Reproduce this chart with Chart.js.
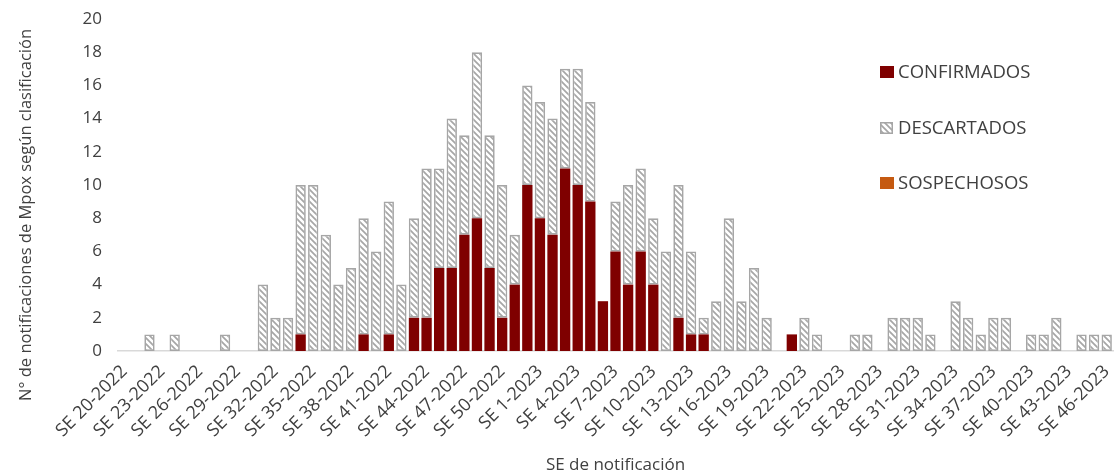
<!DOCTYPE html>
<html>
<head>
<meta charset="utf-8">
<script src="https://cdn.jsdelivr.net/npm/chart.js@4/dist/chart.umd.min.js"></script>
<style>
  html, body { margin: 0; padding: 0; background: #fff; }
  #wrap { width: 1115px; height: 475px; position: relative; }
</style>
</head>
<body>
<div id="wrap"><canvas id="chart"></canvas></div>
<script>
// SE 20-2022 ... SE 52-2022, SE 1-2023 ... SE 46-2023
const weeks = [];
for (let w = 20; w <= 52; w++) weeks.push(`SE ${w}-2022`);
for (let w = 1; w <= 46; w++) weeks.push(`SE ${w}-2023`);

const confirmados = [
  0,0,0,0,0,0,0,0,0,0, 0,0,0,0,1,0,0,0,0,1,
  0,1,0,2,2,5,5,7,8,5, 2,4,10,8,7,11,10,9,3,6,
  4,6,4,0,2,1,1,0,0,0, 0,0,0,1,0,0,0,0,0,0,
  0,0,0,0,0,0,0,0,0,0, 0,0,0,0,0,0,0,0,0
];
const descartados = [
  0,0,1,0,1,0,0,0,1,0, 0,4,2,2,9,10,7,4,5,7,
  6,8,4,6,9,6,9,6,10,8, 8,3,6,7,7,6,7,6,0,3,
  6,5,4,6,8,5,1,3,8,3, 5,2,0,0,2,1,0,0,1,1,
  0,2,2,2,1,0,3,2,1,2, 2,0,1,1,2,0,1,1,1
];
const sospechosos = [
  0,0,0,0,0,0,0,0,0,0, 0,0,0,0,0,0,0,0,0,0,
  0,0,0,0,0,0,0,0,0,0, 0,0,0,0,0,0,0,0,0,0,
  0,0,0,0,0,0,0,0,0,0, 0,0,0,0,0,0,0,0,0,0,
  0,0,0,0,0,0,0,0,0,0, 0,0,0,0,0,0,0,0,0
];
const yTicks = [0, 2, 4, 6, 8, 10, 12, 14, 16, 18, 20];

const RED = "#7f0000";
const GRAY = "#a6a6a6";
const ORANGE = "#c55a11";
const TEXT = "#404040";
const FONT = "'Open Sans', sans-serif";
const Y_TITLE = "N° de notificaciones de Mpox según clasificación";

// diagonal hatch for DESCARTADOS
function hatch() {
  const c = document.createElement("canvas");
  c.width = 6; c.height = 6;
  const g = c.getContext("2d");
  g.fillStyle = "#fff";
  g.fillRect(0, 0, 6, 6);
  g.strokeStyle = GRAY;
  g.lineWidth = 1.7;
  g.beginPath();
  g.moveTo(-1, -1); g.lineTo(7, 7);
  g.moveTo(-1, 5); g.lineTo(1, 7);
  g.moveTo(5, -1); g.lineTo(7, 1);
  g.stroke();
  return g.createPattern(c, "repeat");
}
const HATCH = hatch();

// legend inside the plot + y title centred on the whole canvas height
const extras = {
  id: "extras",
  afterDraw(chart) {
    const ctx = chart.ctx;
    const x = 880, ys = [72, 128, 183];
    ctx.save();
    ctx.font = `18.5px ${FONT}`;
    ctx.textBaseline = "middle";
    chart.data.datasets.forEach((ds, i) => {
      const y = ys[i];
      if (ds.label === "DESCARTADOS") {
        ctx.fillStyle = HATCH;
        ctx.fillRect(x, y - 6, 13, 12);
        ctx.strokeStyle = GRAY;
        ctx.lineWidth = 1.5;
        ctx.strokeRect(x + 0.75, y - 5.25, 11.5, 10.5);
      } else {
        ctx.fillStyle = ds.backgroundColor;
        ctx.fillRect(x, y - 6, 14, 12);
      }
      ctx.fillStyle = TEXT;
      ctx.fillText(ds.label, x + 18, y + 1);
    });

    ctx.translate(26, 215);
    ctx.rotate(-Math.PI / 2);
    ctx.textAlign = "center";
    ctx.font = `16.5px ${FONT}`;
    ctx.fillText(Y_TITLE, 0, 0);
    ctx.restore();
  }
};

new Chart(document.getElementById("chart"), {
  type: "bar",
  data: {
    labels: weeks,
    datasets: [
      {
        label: "CONFIRMADOS",
        data: confirmados.map(v => v || null),
        backgroundColor: RED,
        borderWidth: 0,
      },
      {
        label: "DESCARTADOS",
        data: descartados.map(v => v || null),
        backgroundColor: HATCH,
        borderColor: GRAY,
        borderWidth: 1.7,
        borderSkipped: false,
      },
      {
        label: "SOSPECHOSOS",
        data: sospechosos.map(v => v || null),
        backgroundColor: ORANGE,
        borderWidth: 0,
      },
    ],
  },
  options: {
    responsive: true,
    maintainAspectRatio: false,
    animation: false,
    categoryPercentage: 0.82,
    barPercentage: 1.0,
    layout: { padding: { top: 19, right: 2, left: 0, bottom: 0 } },
    plugins: {
      legend: { display: false },
      tooltip: { enabled: false },
    },
    scales: {
      x: {
        stacked: true,
        grid: { display: false, drawTicks: false },
        border: { display: true, color: "#d9d9d9", width: 1.5 },
        ticks: {
          autoSkip: false,
          maxRotation: 45,
          minRotation: 45,
          color: TEXT,
          font: { family: FONT, size: 18 },
          padding: 10,
          callback: function (val, idx) {
            return idx % 3 === 0 ? this.getLabelForValue(val) : null;
          },
        },
        title: {
          display: true,
          text: "SE de notificación",
          color: TEXT,
          font: { family: FONT, size: 17 },
          padding: { top: 0, bottom: 0 },
        },
        afterFit: s => { s.height = 124; s.paddingLeft = 0; s.paddingRight = 0; },
      },
      y: {
        stacked: true,
        min: 0,
        max: 20,
        afterBuildTicks: s => { s.ticks = yTicks.map(v => ({ value: v })); },
        grid: { display: false, drawTicks: false },
        border: { display: false },
        ticks: {
          color: TEXT,
          font: { family: FONT, size: 17 },
          padding: 16,
        },
        afterFit: s => { s.width = 118; s.paddingTop = 0; s.paddingBottom = 0; },
      },
    },
  },
  plugins: [extras],
});
</script>
</body>
</html>
